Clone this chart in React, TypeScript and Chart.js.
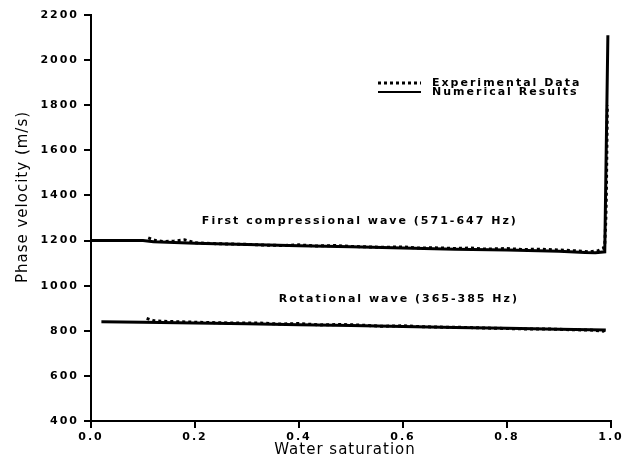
import React, { useEffect, useRef } from "react";
import { Chart, registerables } from "chart.js";

Chart.register(...registerables);

// ---- data ----
const compNumX = [0, 0.1, 0.12, 0.2, 0.3, 0.4, 0.5, 0.6, 0.7, 0.8, 0.9, 0.95, 0.97, 0.988, 0.994];
const compNumY = [1200, 1200, 1195, 1188, 1182, 1177, 1172, 1167, 1162, 1158, 1153, 1147, 1146, 1150, 2110];

const compExpX = [0.11, 0.125, 0.14, 0.16, 0.18, 0.2, 0.23, 0.26, 0.3, 0.33, 0.37, 0.4, 0.43, 0.47, 0.5, 0.53, 0.56, 0.6, 0.63, 0.66, 0.7, 0.73, 0.76, 0.8, 0.83, 0.86, 0.9, 0.93, 0.96, 0.975, 0.985, 0.988, 0.99, 0.991, 0.993];
const compExpY = [1212, 1200, 1195, 1198, 1203, 1190, 1187, 1185, 1183, 1180, 1178, 1181, 1176, 1178, 1174, 1172, 1170, 1172, 1167, 1168, 1165, 1167, 1162, 1165, 1160, 1162, 1158, 1155, 1150, 1155, 1165, 1180, 1290, 1390, 1800];

const rotNumX = [0.02, 0.1, 0.2, 0.3, 0.4, 0.5, 0.6, 0.7, 0.8, 0.9, 0.99];
const rotNumY = [840, 838, 835, 831, 827, 823, 819, 815, 811, 807, 803];

const rotExpX = [0.107, 0.12, 0.14, 0.17, 0.2, 0.24, 0.28, 0.32, 0.36, 0.4, 0.44, 0.48, 0.52, 0.56, 0.6, 0.64, 0.68, 0.72, 0.76, 0.8, 0.84, 0.88, 0.92, 0.96, 0.985, 0.99];
const rotExpY = [855, 845, 842, 840, 838, 836, 834, 835, 830, 832, 826, 828, 825, 820, 822, 818, 816, 815, 812, 810, 808, 808, 805, 803, 798, 805];

const legendLabels = ["Experimental Data", "Numerical Results"];
const annotationTexts = ["First compressional wave (571-647 Hz)", "Rotational wave (365-385 Hz)"];
const annotationX = [0.517, 0.592];
const annotationY = [1284, 940];
const xTitle = "Water saturation";
const yTitle = "Phase velocity (m/s)";

const pts = (xs: number[], ys: number[]) => xs.map((x, i) => ({ x, y: ys[i] }));

const FONT = "'DejaVu Sans', sans-serif";

export default function App() {
  const ref = useRef<HTMLCanvasElement | null>(null);
  useEffect(() => {
    if (!ref.current) return;
    const textPlugin = {
      id: "texts",
      beforeDraw(chart: any) {
        chart.ctx.letterSpacing = "2px";
      },
      afterDraw(chart: any) {
        const ctx = chart.ctx as CanvasRenderingContext2D;
        const xs = chart.scales.x;
        const ys = chart.scales.y;
        const area = chart.chartArea;
        ctx.save();
        ctx.setLineDash([]);
        ctx.fillStyle = "#000";
        ctx.strokeStyle = "#000";
        // tick marks
        xs.ticks.forEach((t: any) => {
          const px = Math.round(xs.getPixelForValue(t.value));
          ctx.fillRect(px - 1, area.bottom, 2, 7);
        });
        ys.ticks.forEach((t: any) => {
          const py = Math.round(ys.getPixelForValue(t.value));
          ctx.fillRect(area.left - 7, py - 1, 7, 2);
        });
        // annotations
        ctx.font = `bold 11px ${FONT}`;
        (ctx as any).letterSpacing = "2px";
        ctx.textAlign = "center";
        ctx.textBaseline = "middle";
        annotationTexts.forEach((t, i) => {
          ctx.fillText(t, xs.getPixelForValue(annotationX[i]), ys.getPixelForValue(annotationY[i]));
        });
        // legend
        const lx0 = 378, lx1 = 421, ly = 83;
        ctx.textAlign = "left";
        ctx.lineWidth = 3;
        ctx.setLineDash([3, 3]);
        ctx.beginPath();
        ctx.moveTo(lx0, ly);
        ctx.lineTo(lx1, ly);
        ctx.stroke();
        ctx.setLineDash([]);
        ctx.lineWidth = 2;
        ctx.beginPath();
        ctx.moveTo(lx0, ly + 9);
        ctx.lineTo(lx1, ly + 9);
        ctx.stroke();
        ctx.fillText(legendLabels[0], 432, ly);
        ctx.fillText(legendLabels[1], 432, ly + 9);
        // axis titles
        ctx.font = `15px ${FONT}`;
        (ctx as any).letterSpacing = "1px";
        ctx.textAlign = "center";
        ctx.fillText(xTitle, 345, 450);
        ctx.translate(23, 197);
        ctx.rotate(-Math.PI / 2);
        ctx.fillText(yTitle, 0, 0);
        ctx.restore();
      },
    };

    const gridCfg = (len: number) => ({
      drawOnChartArea: false,
      drawTicks: true,
      tickLength: len,
      tickColor: "#000",
      tickWidth: 2,
      color: "#000",
      lineWidth: 2,
    });

    const chart = new Chart(ref.current, {
      type: "line",
      data: {
        datasets: [
          { data: pts(compNumX, compNumY), borderColor: "#000", borderWidth: 3, pointRadius: 0, tension: 0, fill: false },
          { data: pts(rotNumX, rotNumY), borderColor: "#000", borderWidth: 3, pointRadius: 0, tension: 0, fill: false },
          { data: pts(compExpX, compExpY), borderColor: "#000", borderWidth: 3, borderDash: [3, 3], pointRadius: 0, tension: 0, fill: false },
          { data: pts(rotExpX, rotExpY), borderColor: "#000", borderWidth: 3, borderDash: [3, 3], pointRadius: 0, tension: 0, fill: false },
        ],
      },
      options: {
        animation: false,
        responsive: false,
        layout: { padding: { top: 15, right: 17, left: 0, bottom: 0 } },
        plugins: { legend: { display: false }, tooltip: { enabled: false } },
        scales: {
          x: {
            type: "linear",
            min: 0,
            max: 1,
            ticks: {
              stepSize: 0.2,
              callback: (v: any) => Number(v).toFixed(1),
              font: { family: FONT, size: 11, weight: "bold" },
              color: "#000",
              padding: 3,
              maxRotation: 0,
            },
            grid: gridCfg(7),
            border: { color: "#000", width: 2 },
            afterFit: (s: any) => { s.height = 43; },
          },
          y: {
            min: 400,
            max: 2200,
            ticks: {
              stepSize: 200,
              callback: (v: any) => String(v),
              font: { family: FONT, size: 11, weight: "bold" },
              color: "#000",
              padding: 6,
            },
            grid: gridCfg(6),
            border: { color: "#000", width: 2 },
            afterFit: (s: any) => { s.width = 91; },
          },
        },
      },
      plugins: [textPlugin],
    } as any);
    return () => chart.destroy();
  }, []);
  return (
    <div style={{ position: "fixed", left: 0, top: 0, width: 628, height: 464, background: "#fff" }}>
      <canvas ref={ref} width={628} height={464} />
    </div>
  );
}
